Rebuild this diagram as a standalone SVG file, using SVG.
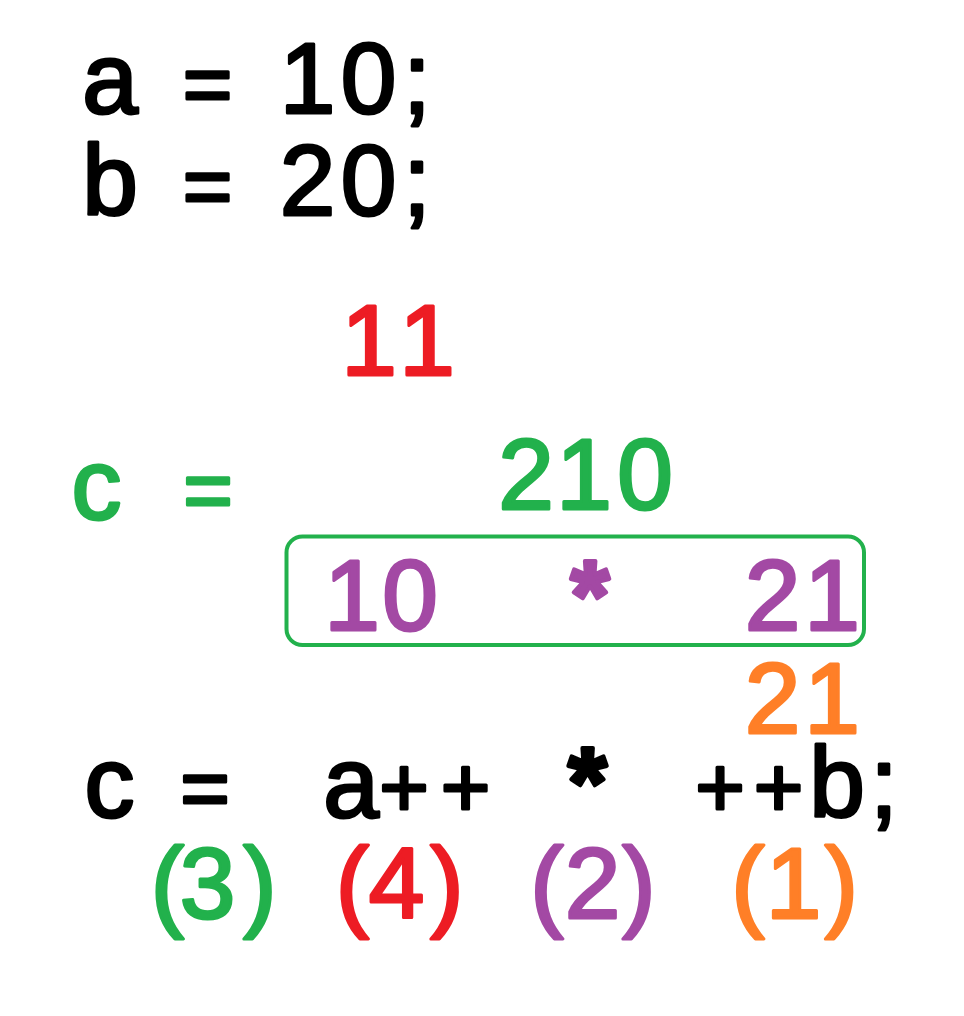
<svg xmlns="http://www.w3.org/2000/svg" width="964" height="1016" viewBox="0 0 964 1016">
  <style>
    .t { font-family: "Liberation Sans", Arial, sans-serif; font-size: 100px; text-anchor: middle; stroke-width: 3; stroke-linejoin: round; stroke-linecap: round; }
    .op { font-size: 85px; }
    .star { font-weight: bold; stroke-width: 4; }
    .k { fill: #000000; stroke: #000000; }
    .g { fill: #22B14C; stroke: #22B14C; }
    .r { fill: #ED1C24; stroke: #ED1C24; }
    .p { fill: #A349A4; stroke: #A349A4; }
    .o { fill: #FF7F27; stroke: #FF7F27; }
    .box { fill: none; stroke: #22B14C; stroke-width: 4; }
  </style>
  <rect width="964" height="1016" fill="#ffffff"/>

  <g id="line-a">
    <text class="t k" y="113"><tspan x="110 160">a </tspan><tspan class="op" x="207.5">=</tspan><tspan x="260 307.5 368.5 417"> 10;</tspan></text>
  </g>
  <g id="line-b">
    <text class="t k" y="215"><tspan x="110 160">b </tspan><tspan class="op" x="207.5">=</tspan><tspan x="260 307.5 368.5 417"> 20;</tspan></text>
  </g>

  <g id="red-11">
    <text class="t r" x="369 427" y="375">11</text>
  </g>

  <g id="green-c-eq">
    <text class="t g" y="519"><tspan x="96.5 152">c </tspan><tspan class="op" x="208">=</tspan></text>
  </g>

  <g id="green-210">
    <text class="t g" x="526 584 645" y="509">210</text>
  </g>

  <g id="product-box">
    <rect class="box" x="286.5" y="536.5" width="577.5" height="108.5" rx="16" ry="16"/>
    <text class="t p" y="630"><tspan x="352 410 500">10 </tspan><tspan class="star" x="590">*</tspan><tspan x="680 772.5 832"> 21</tspan></text>
  </g>

  <g id="orange-21">
    <text class="t o" x="772.5 832" y="733">21</text>
  </g>

  <g id="expression">
    <text class="t k" y="817"><tspan x="109.5 157">c </tspan><tspan class="op" x="205">=</tspan><tspan x="270 351"> a</tspan><tspan class="op" x="404 465.5">++</tspan><tspan x="525"> </tspan><tspan class="star" x="587.5">*</tspan><tspan x="650"> </tspan><tspan class="op" x="720 778.5">++</tspan><tspan x="837 884">b;</tspan></text>
  </g>

  <g id="order-labels">
    <text class="t" y="918"><tspan class="g" x="167.5 207.5 260">(3)</tspan><tspan x="306"> </tspan><tspan class="r" x="352.5 396.5 447">(4)</tspan><tspan x="497"> </tspan><tspan class="p" x="547 592.5 639">(2)</tspan><tspan x="693"> </tspan><tspan class="o" x="748 793.5 841.5">(1)</tspan></text>
  </g>
</svg>
